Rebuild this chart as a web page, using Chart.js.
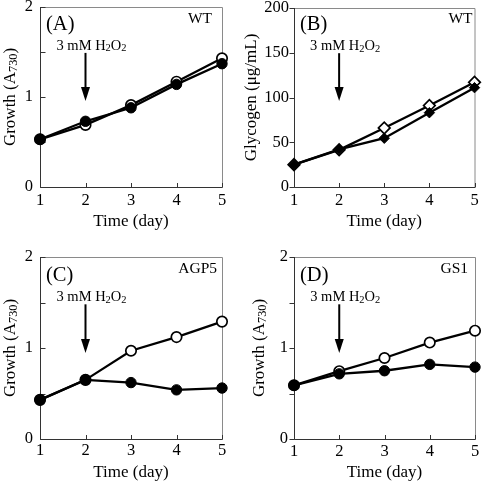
<!DOCTYPE html>
<html><head><meta charset="utf-8">
<script src="https://cdn.jsdelivr.net/npm/chart.js@4.4.1/dist/chart.umd.min.js"></script>
<style>
html,body{margin:0;padding:0;background:#fff;}
#wrap{position:relative;width:482px;height:482px;background:#fff;}
canvas{position:absolute;}
</style></head><body>
<div id="wrap">
<canvas id="cA" width="241" height="241" style="left:0;top:0"></canvas>
<canvas id="cB" width="241" height="241" style="left:241px;top:0"></canvas>
<canvas id="cC" width="241" height="241" style="left:0;top:241px"></canvas>
<canvas id="cD" width="241" height="241" style="left:241px;top:241px"></canvas>
</div>
<script>
// ---- data ----
const days = [1, 2, 3, 4, 5];
const treatmentDay = 2;
const wtGrowthOpen   = [0.53, 0.69, 0.91, 1.17, 1.43];
const wtGrowthFilled = [0.53, 0.73, 0.88, 1.14, 1.37];
const wtGlycogenOpen   = [25, 41.5, 66, 91, 117];
const wtGlycogenFilled = [25, 42, 54.5, 83, 111];
const agp5GrowthOpen   = [0.43, 0.65, 0.97, 1.12, 1.29];
const agp5GrowthFilled = [0.43, 0.65, 0.62, 0.54, 0.56];
const gs1GrowthOpen    = [0.59, 0.745, 0.89, 1.06, 1.19];
const gs1GrowthFilled  = [0.59, 0.716, 0.75, 0.82, 0.79];
const growthTicks = [0, 1, 2];
const glycogenTicks = [0, 50, 100, 150, 200];
const xTitle = [{t:'Time (day)'}];
const growthTitle = [{t:'Growth (A'},{t:'730',sub:true},{t:')'}];
const glycogenTitle = [{t:'Glycogen (\u03bcg/mL)'}];
const treatText = [{t:'3 mM H'},{t:'2',sub:true},{t:'O'},{t:'2',sub:true}];

const FONT = '"Liberation Serif", "Times New Roman", serif';

function drawRich(ctx, segs, x, y, size, align){
  const subSize = size*0.72;
  let w = 0;
  segs.forEach(s=>{ ctx.font = (s.sub?subSize:size)+'px '+FONT; s._w = ctx.measureText(s.t).width; w += s._w; });
  let cx = align==='left' ? x : align==='right' ? x - w : x - w/2;
  ctx.textBaseline = 'alphabetic';
  ctx.textAlign = 'left';
  const base = y + size*0.33;
  segs.forEach(s=>{
    ctx.font = (s.sub?subSize:size)+'px '+FONT;
    ctx.fillText(s.t, cx, s.sub ? base + size*0.12 : base);
    cx += s._w;
  });
}

const decor = {
  id:'decor',
  beforeDatasetsDraw(chart, args, o){
    const {ctx, chartArea:a, scales:{x,y}} = chart;
    ctx.save();
    ctx.lineWidth = 1;
    ctx.strokeStyle = '#8a8a8a';
    ctx.beginPath();
    ctx.moveTo(a.left, a.top+0.5); ctx.lineTo(a.right+0.5, a.top+0.5); ctx.lineTo(a.right+0.5, a.bottom);
    ctx.stroke();
    ctx.strokeStyle = '#333';
    ctx.beginPath();
    ctx.moveTo(a.left+0.5, a.top); ctx.lineTo(a.left+0.5, a.bottom+0.5); ctx.lineTo(a.right+0.5, a.bottom+0.5);
    ctx.stroke();
    const dir = o.yTickIn ? 1 : -1;
    ctx.beginPath();
    for (let v = y.min; v <= y.max + 1e-9; v += o.yMinor){
      const py = Math.round(y.getPixelForValue(v)) + 0.5;
      ctx.moveTo(a.left+0.5, py); ctx.lineTo(a.left+0.5 + dir*5, py);
    }
    for (let v = x.min; v <= x.max; v += 1){
      const px = Math.round(x.getPixelForValue(v)) + 0.5;
      ctx.moveTo(px, a.bottom+0.5); ctx.lineTo(px, a.bottom - 4);
    }
    ctx.stroke();
    ctx.restore();
  },
  afterDraw(chart, args, o){
    const {ctx, chartArea:a, scales:{x,y}} = chart;
    ctx.save();
    ctx.fillStyle = '#000';
    drawRich(ctx, [{t:o.letter}], a.left + 6, a.top + o.letterDy, 20.5, 'left');
    drawRich(ctx, [{t:o.strain}], a.right - o.strainDx, a.top + o.strainDy, 15.5, 'right');
    const px = x.getPixelForValue(treatmentDay);
    const y1 = y.getPixelForValue(o.arrowTop), y2 = y.getPixelForValue(o.arrowTip);
    ctx.strokeStyle = '#000'; ctx.lineWidth = 2;
    ctx.beginPath(); ctx.moveTo(px, y1); ctx.lineTo(px, y2 - 12); ctx.stroke();
    ctx.beginPath(); ctx.moveTo(px-4.5, y2-14); ctx.lineTo(px+4.5, y2-14); ctx.lineTo(px, y2); ctx.closePath(); ctx.fill();
    drawRich(ctx, treatText, px + 6, y.getPixelForValue(o.textY), 14.5, 'center');
    drawRich(ctx, xTitle, (a.left+a.right)/2, o.xTitleY, 17, 'center');
    ctx.translate(o.yTitleX, (a.top+a.bottom)/2);
    ctx.rotate(-Math.PI/2);
    drawRich(ctx, o.yTitle, 0, 0, 17, 'center');
    ctx.restore();
  }
};

function panel(id, p){
  const mk = (vals, filled) => ({
    data: days.map((d,i)=>({x:d, y:vals[i]})),
    borderColor:'#000', borderWidth:2.3,
    pointStyle: p.diamond ? 'rectRot' : 'circle',
    pointRadius: filled ? 5.2 : (p.diamond ? 5.8 : 5.2),
    pointBorderWidth: filled ? 1 : 1.7,
    pointBackgroundColor: filled ? '#000' : '#fff',
    pointBorderColor:'#000',
    clip:false, tension:0
  });
  new Chart(document.getElementById(id), {
    type:'line',
    data:{datasets:[mk(p.filled,true), mk(p.open,false)]},
    plugins:[decor],
    options:{
      responsive:false, animation:false, devicePixelRatio:1,
      layout:{padding:{top:p.top, right:p.right, left:0, bottom:0}},
      plugins:{legend:{display:false}, tooltip:{enabled:false},
        decor:{letter:p.letter, strain:p.strain, letterDy:p.letterDy, strainDx:p.strainDx, strainDy:p.strainDy,
          arrowTop:p.arrowTop, arrowTip:p.arrowTip, textY:p.textY, xTitleY:p.xTitleY, yTitleX:p.yTitleX,
          yTitle:p.yTitle, yMinor:p.yMinor, yTickIn:p.yTickIn}},
      scales:{
        x:{type:'linear', min:1, max:5,
          grid:{display:false, drawTicks:false}, border:{display:false},
          ticks:{stepSize:1, padding:p.xPad, color:'#000', font:{family:FONT, size:16.5}, maxRotation:0},
          afterFit:s=>{ s.height = p.xH; s.paddingLeft = 0; s.paddingRight = 0; }},
        y:{type:'linear', min:p.ticks[0], max:p.ticks[p.ticks.length-1],
          grid:{display:false, drawTicks:false}, border:{display:false},
          afterBuildTicks:s=>{ s.ticks = p.ticks.map(v=>({value:v})); },
          ticks:{padding:p.yPad, color:'#000', font:{family:FONT, size:16.5}},
          afterFit:s=>{ s.width = p.yW; s.paddingTop = 0; s.paddingBottom = 0; }}
      }
    }
  });
}

panel('cA', {open:wtGrowthOpen, filled:wtGrowthFilled, ticks:growthTicks, yMinor:0.5, yTickIn:true,
  top:7, right:19, yW:40, xH:54, xPad:4, yPad:7, letter:'(A)', strain:'WT', letterDy:16, strainDx:10, strainDy:11,
  arrowTop:1.49, arrowTip:0.955, textY:1.58, xTitleY:220, yTitleX:9, yTitle:growthTitle});
panel('cB', {open:wtGlycogenOpen, filled:wtGlycogenFilled, ticks:glycogenTicks, yMinor:50, yTickIn:false, diamond:true,
  top:8, right:7, yW:53, xH:54, xPad:4, yPad:5, letter:'(B)', strain:'WT', letterDy:15, strainDx:2, strainDy:10,
  arrowTop:149.5, arrowTip:96, textY:158.5, xTitleY:220, yTitleX:9, yTitle:glycogenTitle});
panel('cC', {open:agp5GrowthOpen, filled:agp5GrowthFilled, ticks:growthTicks, yMinor:0.5, yTickIn:true,
  top:16, right:19, yW:40, xH:43, xPad:2, yPad:7, letter:'(C)', strain:'AGP5', letterDy:17, strainDx:5, strainDy:11,
  arrowTop:1.48, arrowTip:0.945, textY:1.57, xTitleY:230, yTitleX:9, yTitle:growthTitle});
panel('cD', {open:gs1GrowthOpen, filled:gs1GrowthFilled, ticks:growthTicks, yMinor:0.5, yTickIn:false,
  top:16, right:7, yW:53, xH:43, xPad:3, yPad:6, letter:'(D)', strain:'GS1', letterDy:17, strainDx:7, strainDy:11,
  arrowTop:1.48, arrowTip:0.945, textY:1.57, xTitleY:230, yTitleX:17, yTitle:growthTitle});
</script>
</body></html>
